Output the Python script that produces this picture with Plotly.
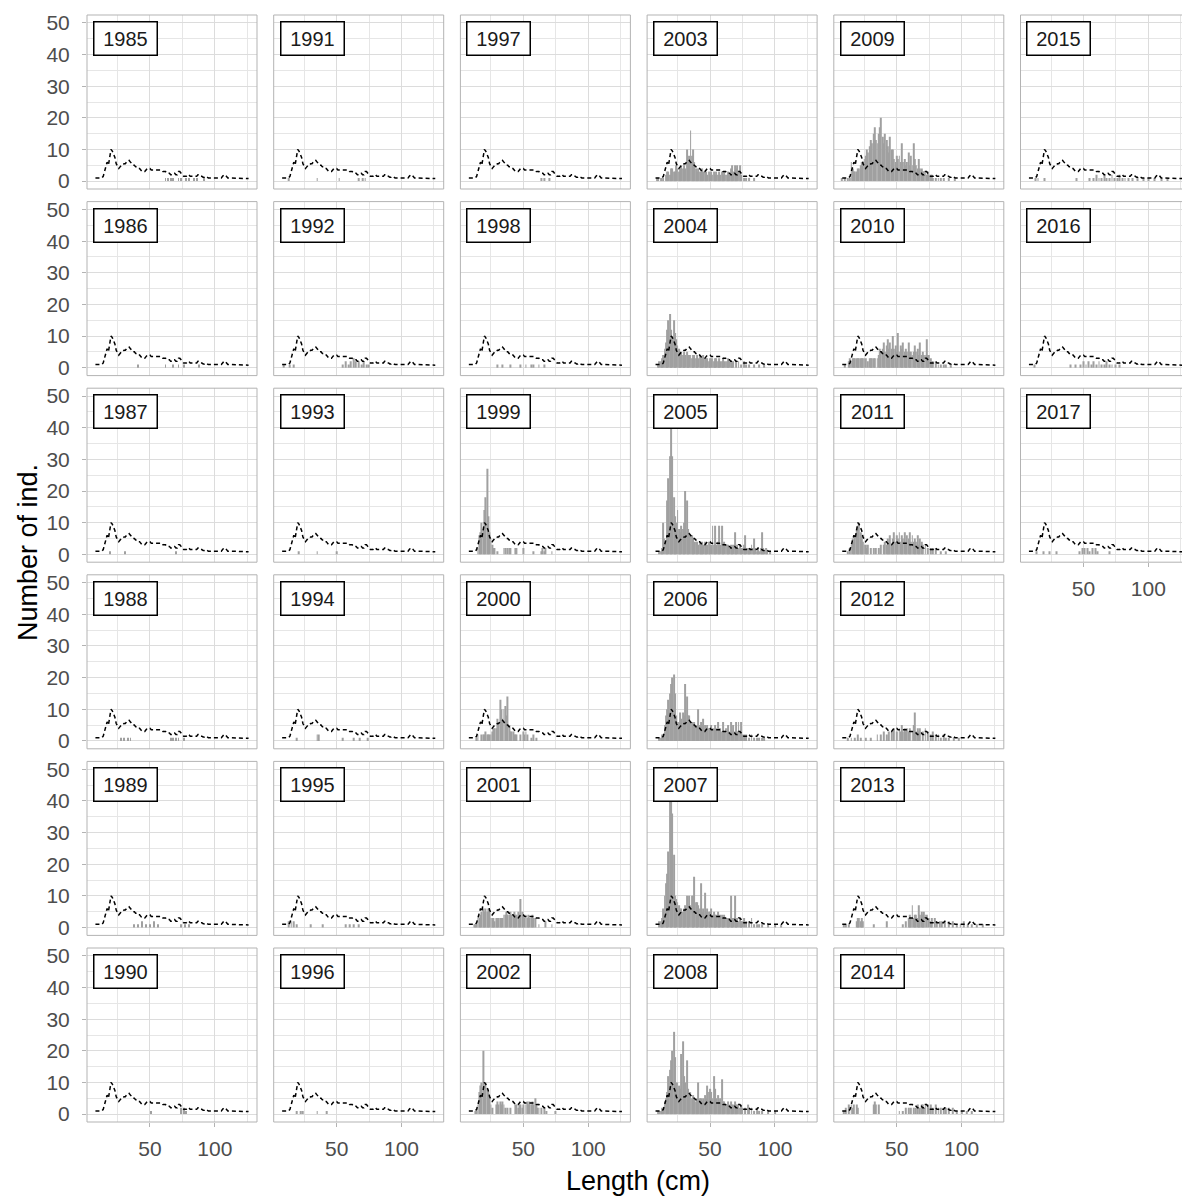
import plotly.graph_objects as go

# ---------------- data ----------------
years = list(range(1985, 2018))

# mean number of individuals per length class (dashed reference line)
mean_len = list(range(8, 127))
mean_n = [1, 1, 1, 1, 1, 1,
          1.5, 3, 5, 6, 5, 8, 10,
          9.5, 8.5, 7.5, 5.5, 4.5, 4, 4.5, 5, 5, 5.5,
          5.5, 6, 6, 6.5, 6, 5.5, 5, 5, 4.5, 4.5,
          4, 4, 3.5, 3, 3, 3, 3.5, 4, 4, 4,
          3.5, 3.5, 3.5, 3.5, 3.5, 3.5, 3.5, 3.5, 3.5, 3,
          3, 3, 2.5, 2.5, 2.5, 2, 2, 2.5, 2.5, 2,
          2, 3, 3, 2.5, 2, 1.5, 1.5, 1.5, 2, 2,
          1.5, 1.5, 1.5, 1.5, 1.5, 1.5, 2, 2, 1.5, 1.5,
          1.2, 1.2, 1.5, 1.2, 1, 1, 1, 1, 1, 1,
          1, 1, 1, 1, 1, 1.5, 2, 2, 1.5, 1,
          1, 1, 1, 1, 1, 0.8, 0.8, 0.8, 0.8, 0.8,
          0.8, 0.8, 0.8, 0.8, 0.8, 0.8]

# yearly counts per length class (cm -> number of individuals)
bars_1985 = {62: 1, 64: 1, 66: 1, 68: 1, 72: 1, 74: 1, 78: 1, 80: 1, 84: 1, 86: 1, 92: 1}
bars_1986 = {41: 1, 62: 1, 68: 1, 72: 1, 76: 1, 88: 1}
bars_1987 = {19: 1, 31: 1, 70: 1}
bars_1988 = {28: 1, 30: 1, 33: 1, 35: 1, 66: 1, 68: 1, 70: 1, 72: 1, 76: 1}
bars_1989 = {38: 1, 41: 1, 44: 2, 47: 1, 50: 1, 53: 2, 56: 1, 74: 1, 77: 1, 80: 1}
bars_1990 = {51: 1, 74: 2, 76: 2, 78: 1}
bars_1991 = {13: 1, 35: 1, 52: 1, 67: 1, 70: 1, 72: 1}
bars_1992 = {9: 1, 14: 1, 17: 1, 55: 1, 57: 2, 59: 1, 61: 2, 63: 3, 65: 2, 67: 2,
             69: 1, 71: 2, 73: 1, 75: 1}
bars_1993 = {21: 1, 35: 1, 50: 1}
bars_1994 = {19: 1, 35: 2, 36: 2, 55: 1, 63: 1, 68: 1, 74: 1}
bars_1995 = {13: 2, 15: 2, 17: 2, 19: 1, 30: 1, 39: 1, 57: 1, 60: 1, 63: 1, 67: 1}
bars_1996 = {19: 1, 22: 1, 24: 1, 35: 1, 42: 1}
bars_1997 = {64: 1, 66: 1, 70: 1}
bars_1998 = {30: 1, 34: 1, 40: 1, 48: 1, 52: 1, 56: 1, 58: 1, 62: 1, 66: 1}
bars_1999 = {15: 2, 16: 6, 17: 7, 18: 10, 19: 8, 20: 14, 21: 18, 22: 27, 23: 12, 24: 7,
             25: 5, 26: 3, 27: 2, 28: 2, 30: 1, 35: 2, 36: 2, 38: 2, 39: 2, 40: 2,
             44: 2, 45: 2, 50: 2, 58: 1, 64: 1, 65: 2, 66: 1, 67: 2, 72: 1}
bars_2000 = {14: 1, 15: 2, 18: 2, 19: 2, 20: 2, 21: 3, 22: 2, 23: 2, 24: 2, 25: 2,
             26: 3, 27: 4, 28: 4, 29: 4, 30: 7, 31: 6, 32: 13, 33: 10, 34: 7, 35: 10,
             36: 11, 37: 8, 38: 14, 39: 5, 40: 3, 41: 3, 42: 3, 43: 2, 44: 2, 45: 2,
             48: 2, 50: 3, 51: 2, 52: 3, 53: 2, 56: 1, 58: 2, 60: 1}
bars_2001 = {12: 1, 13: 1, 14: 1, 15: 3, 16: 3, 17: 4, 18: 5, 19: 6, 20: 5, 21: 6,
             22: 5, 23: 6, 24: 5, 25: 3, 26: 3, 27: 3, 28: 2, 29: 3, 30: 3, 31: 3,
             32: 3, 33: 3, 34: 3, 35: 4, 36: 4, 37: 5, 38: 4, 39: 4, 40: 5, 41: 4,
             42: 4, 43: 5, 44: 4, 45: 4, 46: 5, 47: 4, 48: 9, 49: 5, 50: 4, 51: 3,
             52: 4, 53: 3, 54: 4, 55: 3, 56: 3, 57: 4, 58: 3, 59: 3, 62: 1, 67: 2, 72: 1}
bars_2002 = {13: 1, 14: 1, 15: 3, 16: 7, 17: 9, 18: 10, 19: 20, 20: 9, 21: 10, 22: 8,
             23: 7, 24: 5, 25: 3, 26: 2, 29: 3, 30: 4, 31: 3, 32: 4, 33: 3, 34: 4,
             35: 3, 36: 2, 38: 2, 40: 2, 44: 3, 45: 3, 46: 2, 47: 3, 48: 3, 49: 2,
             50: 3, 52: 3, 53: 4, 54: 3, 55: 4, 56: 3, 57: 4, 58: 3, 59: 5, 60: 3,
             61: 2, 62: 2, 64: 2, 66: 2, 68: 1, 75: 1}
bars_2003 = {9: 1, 10: 1, 12: 1, 14: 1, 16: 2, 17: 3, 18: 3, 19: 2, 20: 4, 21: 4,
             22: 3, 23: 3, 24: 5, 25: 4, 26: 3, 27: 4, 28: 5, 29: 4, 30: 5, 31: 4,
             32: 10, 33: 6, 34: 8, 35: 16, 36: 8, 37: 10, 38: 6, 39: 4, 40: 3, 41: 4,
             42: 3, 43: 3, 44: 4, 45: 3, 46: 3, 47: 3, 48: 2, 49: 3, 50: 2, 51: 3,
             52: 2, 53: 3, 54: 2, 55: 3, 56: 2, 57: 3, 58: 2, 59: 3, 60: 2, 61: 3,
             62: 2, 63: 2, 64: 3, 65: 2, 66: 4, 67: 5, 68: 3, 69: 5, 70: 4, 71: 5,
             72: 3, 73: 5, 74: 2, 76: 1, 78: 1, 80: 1, 84: 1}
bars_2004 = {10: 1, 11: 2, 12: 2, 13: 3, 14: 4, 15: 6, 16: 8, 17: 12, 18: 15, 19: 17,
             20: 12, 21: 10, 22: 15, 23: 11, 24: 9, 25: 7, 26: 6, 27: 5, 28: 5, 29: 4,
             30: 5, 31: 4, 32: 5, 33: 4, 34: 4, 35: 4, 36: 3, 37: 4, 38: 4, 39: 3,
             40: 4, 41: 3, 42: 4, 43: 3, 44: 3, 45: 4, 46: 3, 47: 3, 48: 3, 49: 2,
             50: 3, 51: 3, 52: 3, 53: 2, 54: 3, 55: 3, 56: 2, 57: 3, 58: 2, 59: 2,
             60: 3, 61: 2, 62: 2, 63: 2, 64: 3, 65: 2, 66: 2, 67: 2, 68: 2, 70: 2,
             72: 2, 74: 1, 76: 2, 78: 1, 80: 1, 84: 1, 88: 1, 92: 1}
bars_2005 = {11: 1, 12: 1, 13: 2, 14: 10, 15: 5, 16: 4, 17: 17, 18: 24, 19: 31, 20: 48,
             21: 31, 22: 18, 23: 12, 24: 10, 25: 14, 26: 8, 27: 7, 28: 9, 29: 8, 30: 10,
             31: 20, 32: 17, 33: 8, 34: 6, 35: 6, 36: 6, 37: 5, 38: 4, 39: 4, 40: 4,
             41: 3, 42: 4, 43: 3, 44: 4, 45: 3, 46: 4, 47: 3, 48: 3, 49: 4, 50: 3,
             51: 3, 52: 9, 53: 3, 54: 9, 55: 3, 56: 4, 57: 9, 58: 3, 59: 9, 60: 3,
             61: 4, 62: 3, 63: 3, 64: 3, 65: 2, 66: 3, 67: 2, 68: 3, 69: 7, 70: 2,
             71: 3, 72: 2, 73: 3, 74: 2, 75: 2, 76: 3, 77: 6, 78: 2, 79: 2, 80: 2,
             81: 2, 82: 3, 83: 2, 84: 5, 85: 2, 86: 1, 87: 2, 88: 1, 89: 2, 90: 7,
             91: 2, 92: 1, 93: 2, 94: 1, 96: 1}
bars_2006 = {11: 1, 12: 1, 13: 2, 14: 2, 15: 5, 16: 8, 17: 10, 18: 13, 19: 15, 20: 18,
             21: 20, 22: 21, 23: 15, 24: 8, 25: 6, 26: 6, 27: 9, 28: 7, 29: 9, 30: 8,
             31: 18, 32: 14, 33: 8, 34: 8, 35: 6, 36: 6, 37: 5, 38: 6, 39: 5, 40: 5,
             41: 10, 42: 5, 43: 6, 44: 5, 45: 7, 46: 5, 47: 4, 48: 5, 49: 4, 50: 4,
             51: 5, 52: 4, 53: 4, 54: 5, 55: 4, 56: 6, 57: 4, 58: 4, 59: 3, 60: 6,
             61: 3, 62: 4, 63: 4, 64: 5, 65: 3, 66: 6, 67: 3, 68: 5, 69: 3, 70: 6,
             71: 3, 72: 6, 73: 3, 74: 6, 75: 2, 76: 2, 77: 1, 78: 2, 80: 1, 82: 2,
             84: 1, 86: 1, 88: 1, 90: 1, 92: 1}
bars_2007 = {11: 2, 12: 2, 13: 3, 14: 6, 15: 10, 16: 14, 17: 17, 18: 24, 19: 40, 20: 45,
             21: 36, 22: 23, 23: 10, 24: 9, 25: 8, 26: 7, 27: 6, 28: 6, 29: 5, 30: 6,
             31: 7, 32: 10, 33: 6, 34: 10, 35: 7, 36: 10, 37: 10, 38: 16, 39: 8, 40: 8,
             41: 7, 42: 6, 43: 14, 44: 5, 45: 6, 46: 11, 47: 5, 48: 6, 49: 5, 50: 5,
             51: 6, 52: 4, 53: 5, 54: 4, 55: 4, 56: 5, 57: 3, 58: 4, 59: 4, 60: 3,
             61: 4, 62: 3, 63: 3, 64: 3, 65: 3, 66: 10, 67: 3, 68: 3, 69: 10, 70: 2,
             71: 3, 72: 2, 73: 3, 74: 2, 75: 2, 76: 3, 78: 2, 80: 2, 82: 3, 84: 1,
             86: 1, 88: 1, 90: 1, 95: 1, 100: 1, 105: 1}
bars_2008 = {10: 1, 11: 1, 12: 1, 13: 2, 14: 2, 15: 4, 16: 5, 17: 7, 18: 12, 19: 14,
             20: 17, 21: 20, 22: 26, 23: 18, 24: 10, 25: 10, 26: 9, 27: 8, 28: 19, 29: 23,
             30: 12, 31: 10, 32: 17, 33: 8, 34: 6, 35: 7, 36: 5, 37: 6, 38: 5, 39: 4,
             40: 5, 41: 10, 42: 5, 43: 5, 44: 4, 45: 5, 46: 6, 47: 5, 48: 9, 49: 7,
             50: 8, 51: 7, 52: 5, 53: 12, 54: 8, 55: 5, 56: 6, 57: 4, 58: 5, 59: 11,
             60: 4, 61: 4, 62: 3, 63: 3, 64: 4, 65: 3, 66: 4, 67: 3, 68: 3, 69: 4,
             70: 3, 71: 3, 72: 3, 73: 2, 74: 3, 75: 2, 77: 2, 79: 3, 80: 2, 82: 2,
             84: 1, 86: 2, 88: 1, 90: 1, 95: 1, 100: 1}
bars_2009 = {8: 1, 10: 1, 12: 1, 14: 1, 15: 6, 16: 4, 17: 3, 18: 3, 19: 3, 20: 4,
             21: 4, 22: 5, 23: 6, 24: 6, 25: 7, 26: 8, 27: 10, 28: 9, 29: 11, 30: 13,
             31: 12, 32: 15, 33: 17, 34: 13, 35: 12, 36: 15, 37: 17, 38: 20, 39: 14, 40: 12,
             41: 15, 42: 13, 43: 11, 44: 9, 45: 14, 46: 10, 47: 10, 48: 7, 49: 6, 50: 8,
             51: 7, 52: 8, 53: 6, 54: 12, 55: 6, 56: 7, 57: 5, 58: 6, 59: 9, 60: 5,
             61: 8, 62: 5, 63: 12, 64: 7, 65: 5, 66: 4, 67: 7, 68: 4, 69: 4, 70: 3,
             71: 3, 72: 3, 73: 2, 74: 3, 75: 2, 76: 2, 77: 2, 78: 1, 80: 1, 82: 1,
             84: 1, 86: 1, 90: 1, 95: 1}
bars_2010 = {10: 1, 13: 2, 14: 3, 15: 2, 16: 3, 17: 3, 18: 3, 19: 3, 20: 3, 21: 3,
             22: 3, 23: 3, 24: 3, 25: 3, 26: 3, 28: 2, 29: 3, 30: 3, 31: 3, 32: 3,
             33: 3, 35: 3, 36: 4, 37: 6, 38: 5, 39: 6, 40: 8, 41: 5, 42: 7, 43: 9,
             44: 6, 45: 8, 46: 6, 47: 10, 48: 6, 49: 7, 50: 5, 51: 11, 52: 5, 53: 7,
             54: 6, 55: 8, 56: 5, 57: 6, 58: 5, 59: 8, 60: 5, 61: 5, 62: 4, 63: 5,
             64: 7, 65: 5, 66: 6, 67: 4, 68: 8, 69: 4, 70: 5, 71: 4, 72: 4, 73: 9,
             74: 4, 75: 4, 76: 3, 77: 2, 78: 2, 80: 2, 82: 1, 84: 1, 86: 1, 88: 1, 92: 1}
bars_2011 = {12: 1, 14: 2, 15: 3, 16: 5, 17: 4, 18: 6, 19: 8, 20: 9, 21: 10, 22: 7,
             23: 6, 24: 4, 25: 3, 26: 3, 27: 2, 28: 3, 30: 2, 32: 2, 34: 2, 36: 2,
             38: 3, 40: 3, 41: 4, 42: 3, 43: 5, 44: 4, 45: 6, 46: 3, 47: 5, 48: 7,
             49: 4, 50: 6, 51: 5, 52: 7, 53: 4, 54: 6, 55: 5, 56: 7, 57: 4, 58: 6,
             59: 5, 60: 7, 61: 4, 62: 6, 63: 4, 64: 5, 65: 4, 66: 6, 67: 3, 68: 5,
             69: 4, 70: 3, 72: 3, 74: 2, 76: 2, 78: 2, 80: 2, 84: 1, 88: 1}
bars_2012 = {12: 1, 15: 1, 18: 1, 20: 2, 22: 1, 26: 1, 30: 1, 35: 2, 38: 2, 40: 3,
             42: 2, 44: 3, 46: 3, 48: 4, 50: 3, 52: 4, 53: 3, 54: 5, 55: 3, 56: 4,
             57: 3, 58: 4, 59: 3, 60: 4, 62: 3, 63: 5, 64: 9, 65: 3, 66: 4, 67: 3,
             68: 4, 70: 3, 72: 4, 74: 3, 76: 2, 78: 3, 80: 2, 82: 2, 84: 1, 86: 2,
             88: 1, 90: 1, 94: 1, 98: 1}
bars_2013 = {9: 1, 11: 1, 13: 1, 19: 2, 20: 3, 21: 3, 22: 2, 23: 3, 24: 2, 32: 1,
             42: 2, 55: 1, 57: 2, 59: 3, 60: 4, 61: 3, 62: 7, 63: 3, 64: 4, 65: 4,
             66: 3, 67: 7, 68: 4, 69: 5, 70: 4, 71: 5, 72: 4, 73: 4, 75: 3, 76: 2,
             77: 3, 79: 3, 81: 2, 83: 2, 85: 2, 87: 2, 90: 2, 93: 2, 96: 1, 99: 1,
             102: 2, 105: 1, 108: 1, 112: 1, 116: 1}
bars_2014 = {9: 1, 11: 2, 13: 3, 15: 3, 16: 2, 17: 3, 19: 3, 20: 2, 32: 3, 33: 4,
             34: 3, 36: 3, 52: 1, 55: 1, 57: 2, 59: 2, 61: 2, 63: 2, 65: 2, 66: 3,
             68: 2, 69: 3, 70: 3, 71: 2, 72: 3, 74: 3, 75: 2, 76: 3, 78: 2, 80: 3,
             82: 2, 84: 2, 86: 2, 88: 2, 90: 2, 93: 2, 96: 1, 100: 1, 104: 1, 108: 1}
bars_2015 = {13: 1, 15: 1, 20: 1, 45: 1, 55: 1, 58: 1, 60: 2, 62: 1, 64: 1, 66: 2,
             68: 1, 70: 1, 72: 2, 74: 1, 76: 1, 78: 2, 80: 1, 82: 1, 85: 1, 88: 1,
             92: 1, 96: 1, 100: 1, 105: 1, 110: 1, 115: 1}
bars_2016 = {12: 1, 40: 1, 44: 1, 48: 1, 50: 2, 52: 1, 54: 2, 56: 1, 58: 2, 60: 1,
             62: 2, 64: 1, 66: 1, 68: 2, 70: 1, 72: 1, 75: 1, 78: 1}
bars_2017 = {14: 1, 19: 1, 24: 1, 29: 1, 47: 1, 49: 2, 51: 2, 53: 2, 55: 1, 57: 2,
             59: 2, 61: 1, 70: 1}

x_ticks = [50, 100]
y_ticks = [0, 10, 20, 30, 40, 50]
x_title = "Length (cm)"
y_title = "Number of ind."

bars = {yr: globals()["bars_%d" % yr] for yr in years}

# ---------------- layout constants ----------------
W, H = 1182, 1196
ML, MT, MB = 87, 15, 74
PW = W - ML
PH = H - MT - MB
COL_STEP, ROW_STEP = 186.7, 186.6
PANEL_W, PANEL_H = 170.0, 174.0
X0, X1 = 1.5, 132.5
Y0, Y1 = -2.5, 52.5
NROW = 6

FONT = "Liberation Sans, Arial, sans-serif"
GRID = "#dcdcdc"
GRID_MINOR = "#e6e6e6"
BORDER = "#b3b3b3"
TICKTXT = "#4d4d4d"
BARCOL = "#a0a0a0"

fig = go.Figure()
shapes = []
annotations = []
layout_axes = {}


def sfx(n):
    return "" if n == 1 else str(n)


for k, yr in enumerate(years):
    col, row = divmod(k, NROW)
    n = k + 1
    s = sfx(n)
    left = col * COL_STEP
    right = left + PANEL_W
    xr = [X0, X1]
    clipped = False
    if right > PW:
        xr = [X0, X0 + (PW - left) / PANEL_W * (X1 - X0)]
        right = PW
        clipped = True
    top = row * ROW_STEP
    bottom = top + PANEL_H
    xdom = [left / PW, right / PW]
    ydom = [max(0.0, 1 - bottom / PH), 1 - top / PH]

    last_in_col = (row == NROW - 1) or (yr == years[-1])
    first_col = (col == 0)

    d = bars[yr]
    fig.add_trace(go.Bar(x=list(d.keys()), y=list(d.values()), width=0.72,
                         marker=dict(color=BARCOL, line=dict(width=0)),
                         xaxis="x" + s, yaxis="y" + s, hoverinfo="skip"))
    fig.add_trace(go.Scatter(x=mean_len, y=mean_n, mode="lines",
                             line=dict(color="black", width=1.5, dash="4px,3px"),
                             xaxis="x" + s, yaxis="y" + s, hoverinfo="skip"))

    layout_axes["xaxis" + s] = dict(
        domain=xdom, range=xr, anchor="y" + s, tickmode="array", tickvals=x_ticks,
        showgrid=True, gridcolor=GRID, gridwidth=1,
        minor=dict(tickmode="array", tickvals=[25, 75, 125], showgrid=True,
                   gridcolor=GRID_MINOR, gridwidth=0.8),
        zeroline=False, showline=False,
        ticks="outside" if last_in_col else "", ticklen=4, tickwidth=1, tickcolor=BORDER,
        showticklabels=last_in_col, ticklabelstandoff=4,
        tickfont=dict(family=FONT, size=21, color=TICKTXT), fixedrange=True)
    layout_axes["yaxis" + s] = dict(
        domain=ydom, range=[Y0, Y1], anchor="x" + s, tickmode="array", tickvals=y_ticks,
        showgrid=True, gridcolor=GRID, gridwidth=1,
        minor=dict(tickmode="array", tickvals=[5, 15, 25, 35, 45], showgrid=True,
                   gridcolor=GRID_MINOR, gridwidth=0.8),
        zeroline=False, showline=False,
        ticks="outside" if first_col else "", ticklen=4, tickwidth=1, tickcolor=BORDER,
        showticklabels=first_col, ticklabelstandoff=8,
        tickfont=dict(family=FONT, size=21, color=TICKTXT), fixedrange=True)

    xref, yref = "x%s domain" % s, "y%s domain" % s
    if not clipped:
        shapes.append(dict(type="rect", xref=xref, yref=yref, x0=0, x1=1, y0=0, y1=1,
                           line=dict(color=BORDER, width=1), layer="above"))
    else:
        for (a, b, c, e) in [(0, 0, 0, 1), (0, 1, 1, 1), (0, 0, 1, 0)]:
            shapes.append(dict(type="line", xref=xref, yref=yref, x0=a, y0=b, x1=c, y1=e,
                               line=dict(color=BORDER, width=1), layer="above"))

    annotations.append(dict(text=str(yr), xref=xref, yref=yref,
                            x=6 / PANEL_W, y=1 - 6 / PANEL_H, xanchor="left", yanchor="top",
                            showarrow=False, bgcolor="white", bordercolor="black",
                            borderwidth=1.5, borderpad=2, width=58, height=28,
                            font=dict(family=FONT, size=20, color="#1a1a1a")))

annotations.append(dict(text=x_title, xref="paper", yref="paper",
                        x=(638 - ML) / PW, y=(H - MB - 1181) / PH,
                        xanchor="center", yanchor="middle", showarrow=False,
                        font=dict(family=FONT, size=27, color="black")))
annotations.append(dict(text=y_title, xref="paper", yref="paper",
                        x=(28 - ML) / PW, y=(H - MB - 553) / PH, textangle=-90,
                        xanchor="center", yanchor="middle", showarrow=False,
                        font=dict(family=FONT, size=27, color="black")))

fig.update_layout(width=W, height=H, margin=dict(l=ML, r=0, t=MT, b=MB, pad=0),
                  paper_bgcolor="white", plot_bgcolor="white", showlegend=False,
                  barmode="overlay", shapes=shapes, annotations=annotations,
                  font=dict(family=FONT), **layout_axes)

fig.write_html("out.html", include_plotlyjs=True, config={"displayModeBar": False})
